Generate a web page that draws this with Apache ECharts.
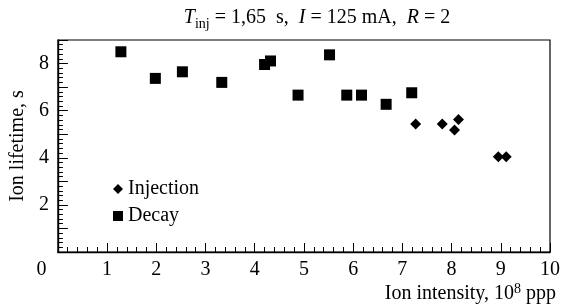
<!DOCTYPE html>
<html>
<head>
<meta charset="utf-8">
<script src="https://cdn.jsdelivr.net/npm/echarts@6/dist/echarts.min.js"></script>
<style>
  html, body { margin: 0; padding: 0; background: #fff; }
  #chart { width: 563px; height: 304px; }
</style>
</head>
<body>
<div id="chart"></div>
<script>
var serif = '"Liberation Serif", "DejaVu Serif", serif';

// data (x: 10^8 ppp, y: s)
var decayX = [1.28, 1.98, 2.53, 3.33, 4.20, 4.32, 4.88, 5.52, 5.87, 6.17, 6.67, 7.19];
var decayY = [8.50, 7.37, 7.65, 7.20, 7.96, 8.11, 6.66, 8.37, 6.66, 6.66, 6.27, 6.76];
var injX = [7.27, 7.81, 8.06, 8.14, 8.95, 9.11];
var injY = [5.43, 5.43, 5.18, 5.63, 4.04, 4.04];

var xTicks = [0, 1, 2, 3, 4, 5, 6, 7, 8, 9, 10];
var yTickLabels = [2, 4, 6, 8];

function pairs(xs, ys) {
    return xs.map(function (x, i) { return [x, ys[i]]; });
}

var chart = echarts.init(document.getElementById('chart'));

var option = {
    animation: false,
    textStyle: { fontFamily: serif, color: '#000' },
    title: {
        text: '{i|T}{sub|inj}{n| = 1,65  s,  }{i|I}{n| = 125 mA,  }{i|R}{n| = 2}',
        left: 312,
        top: 0,
        textAlign: 'center',
        textStyle: {
            fontWeight: 'normal',
            rich: {
                n: { fontFamily: serif, fontSize: 20, fontWeight: 'normal', color: '#000', lineHeight: 26, verticalAlign: 'middle' },
                i: { fontFamily: serif, fontSize: 20, fontWeight: 'normal', fontStyle: 'italic', color: '#000', lineHeight: 26, verticalAlign: 'middle' },
                sub: { fontFamily: serif, fontSize: 14, fontWeight: 'normal', color: '#000', lineHeight: 14, verticalAlign: 'bottom' }
            }
        }
    },
    legend: {
        orient: 'vertical',
        left: 108,
        top: 173,
        itemWidth: 10,
        itemHeight: 10,
        itemGap: 5,
        textStyle: { fontFamily: serif, fontSize: 20, color: '#000', lineHeight: 22 },
        data: [
            { name: 'Injection', icon: 'diamond', itemStyle: { color: '#000' } },
            { name: 'Decay', icon: 'rect', itemStyle: { color: '#000' } }
        ]
    },
    grid: {
        left: 57,
        right: 7,
        top: 40,
        bottom: 52,
        show: true,
        borderColor: '#000',
        borderWidth: 1.2
    },
    xAxis: {
        type: 'value',
        min: 0,
        max: 10,
        interval: 1,
        name: '{n|Ion intensity, 10}{sup|8}{n| ppp}',
        nameLocation: 'end',
        nameGap: 6,
        nameTextStyle: {
            align: 'right',
            verticalAlign: 'top',
            padding: [30, 0, 0, 0],
            rich: {
                n: { fontFamily: serif, fontSize: 20, color: '#000', lineHeight: 24, verticalAlign: 'middle' },
                sup: { fontFamily: serif, fontSize: 14, color: '#000', lineHeight: 14, verticalAlign: 'top' }
            }
        },
        axisLine: { show: true, lineStyle: { color: '#000', width: 1.4 } },
        axisTick: { show: true, inside: true, length: 9, lineStyle: { color: '#000', width: 1 } },
        minorTick: { show: true, splitNumber: 5, length: 5, lineStyle: { color: '#000', width: 1 } },
        splitLine: { show: false },
        axisLabel: {
            show: true,
            margin: 8,
            fontFamily: serif,
            fontSize: 20,
            color: '#000',
            showMinLabel: true,
            showMaxLabel: true,
            formatter: function (v) {
                if (xTicks.indexOf(v) < 0) return '';
                return v === 0 ? '{z|0}' : String(v);
            },
            rich: {
                z: { fontFamily: serif, fontSize: 20, color: '#000', padding: [0, 33, 0, 0] }
            }
        }
    },
    yAxis: {
        type: 'value',
        min: 0,
        max: 9,
        interval: 1,
        name: 'Ion lifetime, s',
        nameLocation: 'middle',
        nameGap: 29,
        nameTextStyle: { fontFamily: serif, fontSize: 20, color: '#000' },
        axisLine: { show: true, lineStyle: { color: '#000', width: 1.4 } },
        axisTick: { show: true, inside: true, length: 10, lineStyle: { color: '#000', width: 1 } },
        minorTick: { show: true, splitNumber: 5, length: 5, lineStyle: { color: '#000', width: 1 } },
        splitLine: { show: false },
        axisLabel: {
            margin: 9,
            fontFamily: serif,
            fontSize: 20,
            color: '#000',
            formatter: function (v) {
                return yTickLabels.indexOf(v) >= 0 ? String(v) : '';
            }
        }
    },
    series: [
        {
            name: 'Injection',
            type: 'scatter',
            symbol: 'diamond',
            symbolSize: [11, 11],
            itemStyle: { color: '#000', opacity: 1 },
            data: pairs(injX, injY)
        },
        {
            name: 'Decay',
            type: 'scatter',
            symbol: 'rect',
            symbolSize: 11,
            itemStyle: { color: '#000', opacity: 1 },
            data: pairs(decayX, decayY)
        }
    ]
};

chart.setOption(option);
</script>
</body>
</html>
